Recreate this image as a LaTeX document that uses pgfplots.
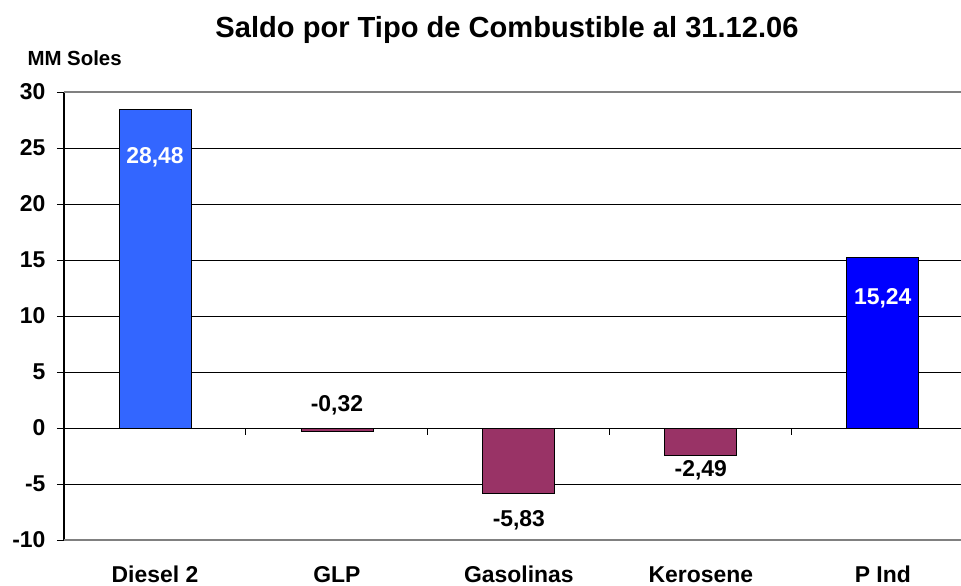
\documentclass[border=0pt]{standalone}
\usepackage{fontspec}
\setmainfont{Liberation Sans}
\usepackage{pgfplots}
\pgfplotsset{compat=1.18}
\definecolor{azul}{RGB}{51,102,255}
\definecolor{azulosc}{RGB}{0,0,255}
\definecolor{vino}{RGB}{153,51,102}
\definecolor{borde}{RGB}{128,128,128}

\begin{document}
\begin{tikzpicture}
\begin{axis}[
	name=ax,
	at={(0,0)}, anchor=south west,
	scale only axis,
	width=897bp, height=448bp,
	xmin=-0.5, xmax=4.43,
	ymin=-10, ymax=30,
	axis y line*=left,
	axis x line*=bottom,
	x axis line style={draw=none},
	y axis line style={black, line width=1.2pt},
	ytick={-10,-5,...,30},
	xtick={0,1,2,3,4},
	xticklabels={Diesel 2,GLP,Gasolinas,Kerosene,P Ind},
	x tick style={draw=none},
	y tick style={black, line width=1pt},
	tick align=outside,
	major tick length=7bp,
	ymajorgrids,
	major grid style={black, line width=0.9pt},
	tick label style={font=\fontsize{23}{26}\selectfont\bfseries},
	xticklabel style={anchor=base, yshift=-35bp},
	yticklabel style={xshift=-8bp},
	/pgf/number format/assume math mode=true,
	ybar, bar width=72bp, bar shift=0pt,
	nodes near coords style={font=\fontsize{23}{26}\selectfont\bfseries, anchor=base,
		/pgf/number format/use comma, /pgf/number format/fixed,
		/pgf/number format/precision=2, /pgf/number format/fixed zerofill},
]

% Diesel 2
\addplot[fill=azul, draw=black, line width=0.8pt, nodes near coords,
	every node near coord/.append style={white, yshift=-54bp}]
coordinates {(0,28.48)};

% GLP
\addplot[fill=vino, draw=black, line width=0.8pt, nodes near coords,
	every node near coord/.append style={black, yshift=19.6bp}]
coordinates {(1,-0.32)};

% Gasolinas
\addplot[fill=vino, draw=black, line width=0.8pt, nodes near coords,
	every node near coord/.append style={black, yshift=-33.7bp}]
coordinates {(2,-5.83)};

% Kerosene
\addplot[fill=vino, draw=black, line width=0.8pt, nodes near coords,
	every node near coord/.append style={black, yshift=-21bp}]
coordinates {(3,-2.49)};

% P Ind
\addplot[fill=azulosc, draw=black, line width=0.8pt, nodes near coords,
	every node near coord/.append style={white, yshift=-46.7bp}]
coordinates {(4,15.24)};

% borde del area y eje en cero
\draw[borde, line width=1.2pt] (axis cs:-0.5,30) -- (axis cs:4.43,30);
\draw[borde, line width=1.2pt] (axis cs:-0.5,-10) -- (axis cs:4.43,-10);
\draw[black, line width=1pt] (axis cs:-0.5,0) -- (axis cs:4.43,0);
\draw[black, line width=1pt] (axis cs:0.5,0) -- ([yshift=-7bp]axis cs:0.5,0);
\draw[black, line width=1pt] (axis cs:1.5,0) -- ([yshift=-7bp]axis cs:1.5,0);
\draw[black, line width=1pt] (axis cs:2.5,0) -- ([yshift=-7bp]axis cs:2.5,0);
\draw[black, line width=1pt] (axis cs:3.5,0) -- ([yshift=-7bp]axis cs:3.5,0);
\end{axis}

\node[font=\fontsize{29.2}{32}\selectfont\bfseries, anchor=base]
	at ([xshift=443bp, yshift=502.7bp]ax.south west) {Saldo por Tipo de Combustible al 31.12.06};
\node[font=\fontsize{20.5}{23}\selectfont\bfseries, anchor=base west]
	at ([xshift=-40bp, yshift=474bp]ax.south west) {MM Soles};

\pgfresetboundingbox
\path[use as bounding box] ([xshift=-64bp, yshift=-46bp]ax.south west) rectangle ([yshift=92bp]ax.north east);
\end{tikzpicture}
\end{document}
